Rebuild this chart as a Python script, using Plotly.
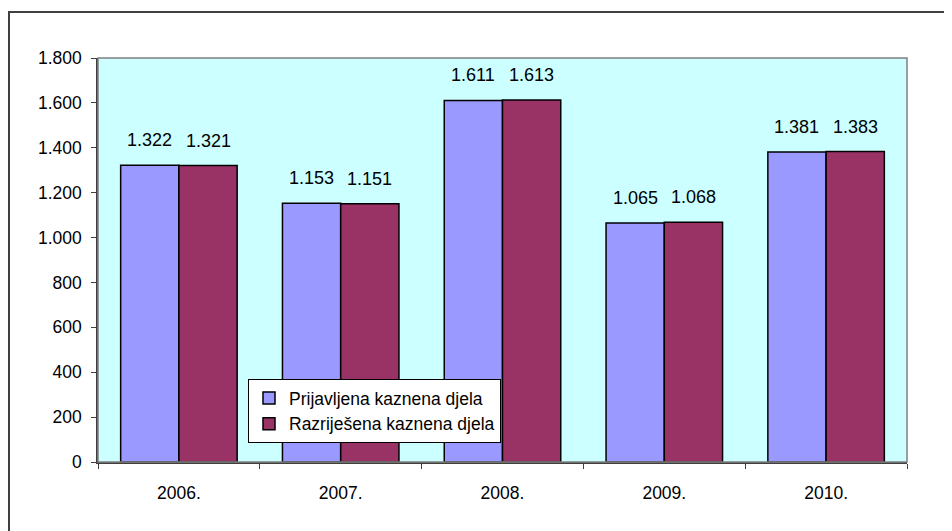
import plotly.graph_objects as go

years = ["2006.", "2007.", "2008.", "2009.", "2010."]
prijavljena = [1322, 1153, 1611, 1065, 1381]
razrijesena = [1321, 1151, 1613, 1068, 1383]
series_names = ["Prijavljena kaznena djela", "Razriješena kaznena djela"]
y_ticks = [0, 200, 400, 600, 800, 1000, 1200, 1400, 1600, 1800]

# the page body adds an 8px margin, so the figure is 8px smaller each way
W, H = 944, 523
L, R, T, B = 90, 45, 50, 69
pw, ph = W - L - R, H - T - B

FONT = "Liberation Sans, Arial, sans-serif"

fig = go.Figure()
fig.add_trace(go.Bar(x=years, y=prijavljena, name=series_names[0],
                     marker=dict(color="#9999FF", line=dict(color="black", width=1.5))))
fig.add_trace(go.Bar(x=years, y=razrijesena, name=series_names[1],
                     marker=dict(color="#993366", line=dict(color="black", width=1.5))))

bar_px = pw / len(years) * 0.72 / 2
annotations = []
for vals, shift in ((prijavljena, -bar_px / 2), (razrijesena, bar_px / 2)):
    for i, v in enumerate(vals):
        annotations.append(dict(x=i, y=v, xref="x", yref="y", text=f"{v:,}".replace(",", "."),
                                showarrow=False, xshift=shift, yshift=25, yanchor="middle",
                                font=dict(family=FONT, size=18, color="black")))

shapes = [
    dict(type="rect", xref="paper", yref="paper", x0=0, y0=0, x1=1, y1=1,
         line=dict(color="#808080", width=1.5), layer="above"),
    dict(type="rect", xref="paper", yref="paper",
         x0=(1 - L) / pw, y0=-(560 - (H - B)) / ph, x1=(980 - L) / pw, y1=1 + (T - 4) / ph,
         line=dict(color="#404040", width=2)),
]

leg_font = 17.5
fig.update_layout(
    width=W, height=H,
    margin=dict(l=L, r=R, t=T, b=B, pad=0),
    paper_bgcolor="white",
    plot_bgcolor="#CCFFFF",
    barmode="group",
    bargap=0.28,
    bargroupgap=0,
    separators=",.",
    font=dict(family=FONT, size=17, color="black"),
    showlegend=True,
    legend=dict(x=(240 - L) / pw, y=(H - B - 371) / ph, xanchor="left", yanchor="top",
                bgcolor="white", bordercolor="black", borderwidth=1,
                font=dict(family=FONT, size=leg_font, color="black"),
                tracegroupgap=0, itemwidth=30),
    annotations=annotations,
    shapes=shapes,
)
fig.update_xaxes(type="category", range=[-0.5, 4.5], showline=True, linecolor="#404040", linewidth=1.5,
                 ticks="outside", tickson="boundaries", ticklen=5, tickcolor="#404040",
                 showgrid=False, ticklabelstandoff=14, tickangle=0,
                 tickfont=dict(family=FONT, size=17.5, color="black"))
fig.update_yaxes(range=[0, 1800], tickvals=y_ticks, tickformat=",d",
                 showline=True, linecolor="#404040", linewidth=1.5,
                 ticks="outside", ticklen=5, tickcolor="#404040",
                 showgrid=False, zeroline=False, ticklabelstandoff=6,
                 tickfont=dict(family=FONT, size=17.5, color="black"))

fig.write_html("out.html")
